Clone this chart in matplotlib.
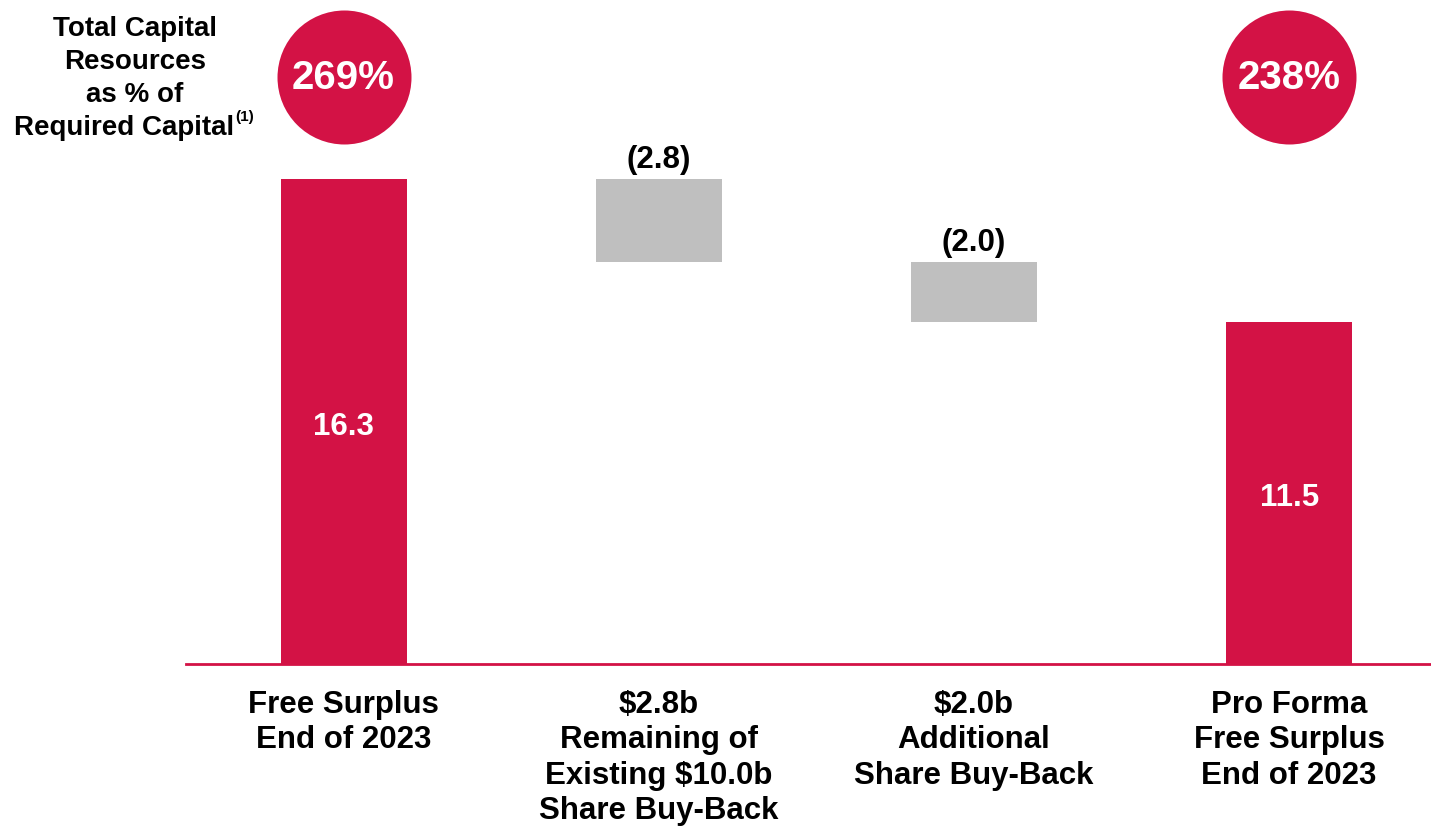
import matplotlib.pyplot as plt

plt.rcParams['font.family'] = ['Liberation Sans', 'DejaVu Sans']

categories = ['Free Surplus\nEnd of 2023',
              '$2.8b\nRemaining of\nExisting $10.0b\nShare Buy-Back',
              '$2.0b\nAdditional\nShare Buy-Back',
              'Pro Forma\nFree Surplus\nEnd of 2023']
values = [16.3, -2.8, -2.0, 11.5]
kinds = ['total', 'step', 'step', 'total']
value_labels = ['16.3', '(2.8)', '(2.0)', '11.5']
ratio_labels = {0: '269%', 3: '238%'}

RED = '#D31245'
GREY = '#BFBFBF'

W, H = 1431, 828
fig = plt.figure(figsize=(W / 100, H / 100), dpi=100)
base_y = (H - 665) / H
ax = fig.add_axes([186 / W, base_y, 1 - 186 / W, 1 - base_y])
ymax = 665 / 29.75
ax.set_xlim(-0.5, 3.45)
ax.set_ylim(0, ymax)

running = 0.0
for i, (v, k) in enumerate(zip(values, kinds)):
    if k == 'total':
        bottom, height, color = 0, v, RED
        running = v
    else:
        bottom, height, color = running + v, -v, GREY
        running = running + v
    ax.bar(i, height, bottom=bottom, width=0.4, color=color, zorder=2)
    if k == 'total':
        ax.text(i, v * 0.5 - 0.14, value_labels[i],
                ha='center', va='center', color='white',
                fontsize=22.5, fontweight='bold')
    else:
        ax.text(i, bottom + height + 0.68, value_labels[i],
                ha='center', va='center', color='black',
                fontsize=22.5, fontweight='bold')

# percentage circles
circle_y = (665 - 78) / 29.75
for i, lab in ratio_labels.items():
    ax.scatter([i], [circle_y], s=(134 * 0.72) ** 2, color=RED,
               clip_on=False, zorder=3, linewidths=0)
    ax.text(i, circle_y, lab, ha='center', va='center', color='white',
            fontsize=29, fontweight='bold', zorder=4)

ax.axhline(0, color=RED, lw=2, zorder=3, clip_on=False)
for s in ax.spines.values():
    s.set_visible(False)
ax.set_yticks([])
ax.set_xticks(range(len(categories)))
ax.set_xticklabels(categories, fontsize=22.5, fontweight='bold',
                   linespacing=1.23, va='top')
ax.tick_params(axis='x', length=0, pad=18)

# side caption
cap_lines = ['Total Capital', 'Resources', 'as % of']
for j, line in enumerate(cap_lines):
    fig.text(135 / W, 1 - (29 + 33 * j) / H, line, ha='center', va='center',
             fontsize=20, fontweight='bold')
fig.text(234 / W, 1 - 128 / H, 'Required Capital', ha='right', va='center',
         fontsize=20, fontweight='bold')
fig.text(235 / W, 1 - 124 / H, '(1)', ha='left', va='bottom',
         fontsize=11, fontweight='bold')

fig.savefig('out.png', dpi=100)
